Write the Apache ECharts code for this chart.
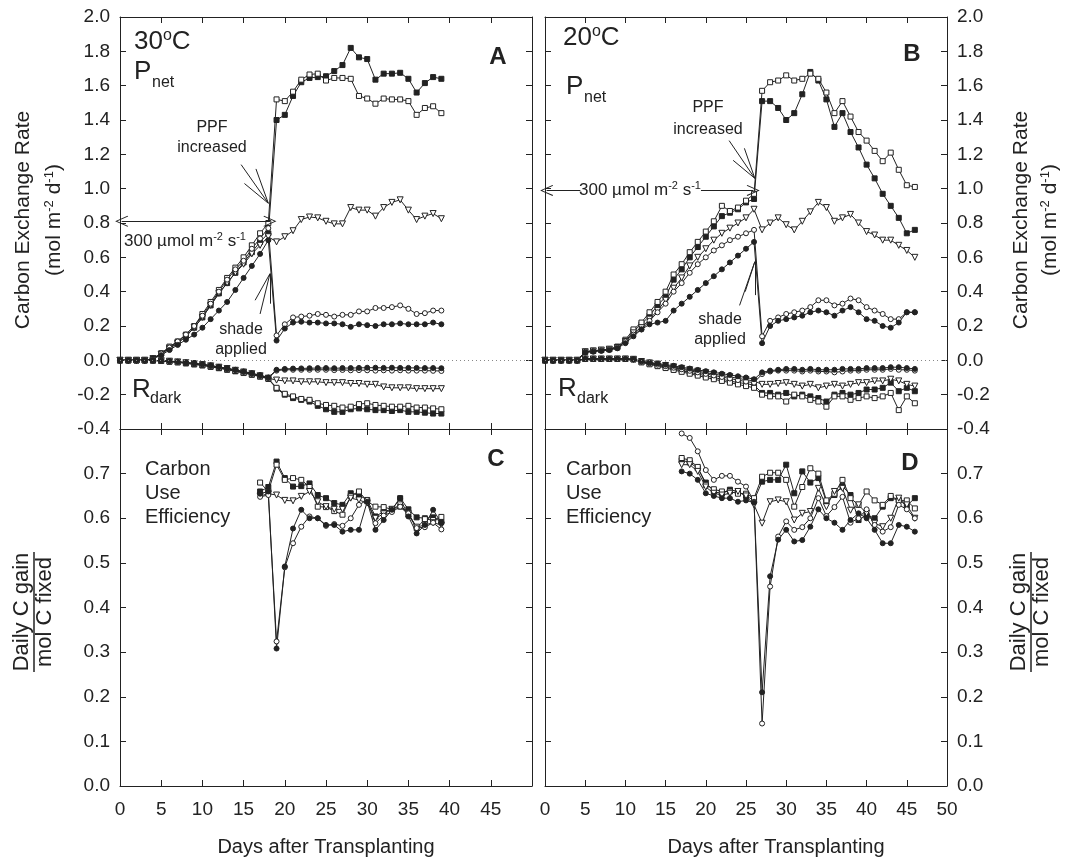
<!DOCTYPE html>
<html>
<head>
<meta charset="utf-8">
<script src="https://cdn.jsdelivr.net/npm/echarts@6.0.0/dist/echarts.min.js"></script>
<style>
  html, body { margin: 0; background: #fff; }
  #chart { width: 1069px; height: 866px; }
</style>
</head>
<body>
<div id="chart"></div>
<script>
// region data
// 30 °C, daily values from day 0 (Pnet, Rdark) and from day 17 (CUE)
const pnet30HiFilled = [0, 0, 0, 0, 0.01, 0.04, 0.07, 0.10, 0.14, 0.19, 0.25, 0.32, 0.39, 0.45, 0.51, 0.57, 0.63, 0.69, 0.74,
  1.40, 1.43, 1.54, 1.62, 1.645, 1.65, 1.655, 1.685, 1.72, 1.82, 1.765, 1.755, 1.635, 1.67, 1.67, 1.675, 1.64, 1.56, 1.615, 1.65, 1.64]
const pnet30HiOpen = [0, 0, 0, 0, 0.01, 0.04, 0.08, 0.11, 0.15, 0.20, 0.27, 0.34, 0.41, 0.48, 0.54, 0.60, 0.67, 0.74, 0.80,
  1.52, 1.51, 1.565, 1.635, 1.665, 1.67, 1.63, 1.645, 1.645, 1.64, 1.54, 1.525, 1.495, 1.525, 1.52, 1.52, 1.51, 1.43, 1.47, 1.48, 1.44]
const pnet30Ctrl = [0, 0, 0, 0, 0.01, 0.035, 0.07, 0.10, 0.14, 0.19, 0.25, 0.32, 0.39, 0.45, 0.51, 0.56, 0.62, 0.67, 0.72,
  0.69, 0.72, 0.755, 0.82, 0.835, 0.83, 0.81, 0.795, 0.795, 0.89, 0.875, 0.875, 0.84, 0.89, 0.92, 0.935, 0.875, 0.82, 0.84, 0.855, 0.825]
const pnet30ShadeOpen = [0, 0, 0, 0, 0.01, 0.04, 0.075, 0.11, 0.15, 0.20, 0.26, 0.33, 0.40, 0.47, 0.53, 0.58, 0.65, 0.71, 0.77,
  0.145, 0.21, 0.25, 0.255, 0.26, 0.27, 0.265, 0.255, 0.265, 0.265, 0.285, 0.285, 0.305, 0.305, 0.31, 0.32, 0.30, 0.27, 0.275, 0.29, 0.29]
const pnet30ShadeFilled = [0, 0, 0, 0, 0.01, 0.03, 0.06, 0.09, 0.12, 0.15, 0.19, 0.24, 0.29, 0.34, 0.41, 0.48, 0.55, 0.62, 0.70,
  0.115, 0.185, 0.22, 0.225, 0.22, 0.22, 0.215, 0.215, 0.21, 0.195, 0.21, 0.205, 0.20, 0.21, 0.21, 0.215, 0.21, 0.21, 0.21, 0.22, 0.21]

const rdark30HiFilled = [0, 0, 0, 0, -0.002, -0.004, -0.008, -0.012, -0.018, -0.024, -0.03, -0.038, -0.046, -0.055, -0.064, -0.074, -0.084, -0.095, -0.108,
  -0.165, -0.20, -0.22, -0.23, -0.24, -0.265, -0.285, -0.30, -0.30, -0.285, -0.28, -0.285, -0.29, -0.29, -0.295, -0.29, -0.30, -0.30, -0.305, -0.31, -0.31]
const rdark30HiOpen = [0, 0, 0, 0, -0.001, -0.003, -0.007, -0.011, -0.016, -0.022, -0.028, -0.035, -0.044, -0.052, -0.062, -0.072, -0.082, -0.093, -0.106,
  -0.16, -0.195, -0.21, -0.225, -0.23, -0.25, -0.26, -0.265, -0.275, -0.27, -0.255, -0.25, -0.26, -0.265, -0.27, -0.27, -0.265, -0.275, -0.275, -0.28, -0.285]
const rdark30Ctrl = [0, 0, 0, 0, 0, -0.002, -0.005, -0.009, -0.014, -0.019, -0.025, -0.032, -0.04, -0.048, -0.058, -0.068, -0.078, -0.09, -0.104,
  -0.115, -0.12, -0.12, -0.125, -0.125, -0.125, -0.13, -0.13, -0.13, -0.135, -0.135, -0.14, -0.14, -0.155, -0.16, -0.16, -0.16, -0.165, -0.165, -0.165, -0.165]
const rdark30ShadeOpen = [0, 0, 0, 0, 0, -0.002, -0.005, -0.009, -0.013, -0.018, -0.024, -0.031, -0.04, -0.048, -0.057, -0.067, -0.077, -0.088, -0.102,
  -0.06, -0.055, -0.055, -0.055, -0.055, -0.055, -0.055, -0.057, -0.056, -0.058, -0.057, -0.058, -0.06, -0.058, -0.06, -0.058, -0.06, -0.06, -0.06, -0.061, -0.062]
const rdark30ShadeFilled = [0, 0, 0, 0, 0, -0.002, -0.004, -0.008, -0.012, -0.017, -0.023, -0.03, -0.038, -0.046, -0.055, -0.065, -0.075, -0.086, -0.10,
  -0.055, -0.05, -0.048, -0.047, -0.046, -0.045, -0.045, -0.046, -0.045, -0.045, -0.044, -0.043, -0.043, -0.044, -0.043, -0.044, -0.044, -0.044, -0.045, -0.045, -0.046]

const cue30HiFilled = [0.66, 0.67, 0.727, 0.69, 0.671, 0.672, 0.678, 0.652, 0.645, 0.634, 0.63, 0.656, 0.652, 0.641, 0.604, 0.615, 0.62, 0.645, 0.62, 0.602, 0.60, 0.602, 0.592]
const cue30HiOpen = [0.68, 0.66, 0.72, 0.686, 0.69, 0.686, 0.67, 0.626, 0.625, 0.616, 0.608, 0.65, 0.66, 0.638, 0.626, 0.625, 0.62, 0.626, 0.608, 0.578, 0.598, 0.596, 0.603]
const cue30Ctrl = [0.65, 0.655, 0.652, 0.64, 0.639, 0.649, 0.66, 0.637, 0.626, 0.62, 0.62, 0.645, 0.641, 0.634, 0.60, 0.61, 0.62, 0.63, 0.61, 0.58, 0.585, 0.59, 0.585]
const cue30ShadeOpen = [0.648, 0.652, 0.324, 0.49, 0.544, 0.581, 0.604, 0.60, 0.583, 0.587, 0.583, 0.60, 0.63, 0.641, 0.589, 0.606, 0.614, 0.626, 0.611, 0.578, 0.58, 0.59, 0.575]
const cue30ShadeFilled = [0.655, 0.66, 0.308, 0.492, 0.577, 0.619, 0.60, 0.60, 0.585, 0.585, 0.57, 0.574, 0.574, 0.637, 0.574, 0.596, 0.619, 0.645, 0.604, 0.566, 0.585, 0.619, 0.589]

// 20 °C, daily values from day 0 (Pnet, Rdark) and from day 17 (CUE)
const pnet20HiFilled = [0, 0, 0, 0, 0, 0.05, 0.055, 0.06, 0.065, 0.075, 0.11, 0.17, 0.21, 0.26, 0.32, 0.37, 0.47, 0.53, 0.60, 0.66, 0.72, 0.78, 0.84, 0.86, 0.88, 0.92, 0.94,
  1.51, 1.51, 1.47, 1.40, 1.44, 1.55, 1.68, 1.63, 1.52, 1.36, 1.44, 1.33, 1.24, 1.14, 1.06, 0.97, 0.90, 0.83, 0.74, 0.76]
const pnet20HiOpen = [0, 0, 0, 0, 0, 0.05, 0.055, 0.06, 0.065, 0.08, 0.12, 0.18, 0.22, 0.28, 0.34, 0.40, 0.50, 0.56, 0.63, 0.69, 0.75, 0.81, 0.90, 0.87, 0.89, 0.93, 0.97,
  1.57, 1.62, 1.63, 1.66, 1.63, 1.64, 1.67, 1.64, 1.56, 1.44, 1.51, 1.42, 1.33, 1.28, 1.22, 1.16, 1.21, 1.11, 1.02, 1.01]
const pnet20Ctrl = [0, 0, 0, 0, 0, 0.05, 0.055, 0.06, 0.065, 0.075, 0.11, 0.16, 0.19, 0.24, 0.29, 0.35, 0.42, 0.48, 0.55, 0.60, 0.65, 0.70, 0.74, 0.77, 0.80, 0.83, 0.88,
  0.76, 0.80, 0.83, 0.79, 0.76, 0.81, 0.865, 0.92, 0.89, 0.81, 0.83, 0.85, 0.80, 0.75, 0.73, 0.70, 0.70, 0.67, 0.64, 0.60]
const pnet20ShadeOpen = [0, 0, 0, 0, 0, 0.05, 0.055, 0.06, 0.065, 0.075, 0.11, 0.15, 0.18, 0.23, 0.28, 0.33, 0.40, 0.45, 0.51, 0.56, 0.60, 0.64, 0.67, 0.70, 0.72, 0.74, 0.76,
  0.14, 0.23, 0.25, 0.27, 0.28, 0.29, 0.31, 0.35, 0.35, 0.32, 0.33, 0.36, 0.35, 0.31, 0.29, 0.27, 0.24, 0.24, 0.28, 0.28]
const pnet20ShadeFilled = [0, 0, 0, 0, 0, 0.045, 0.05, 0.055, 0.06, 0.07, 0.10, 0.14, 0.18, 0.21, 0.22, 0.23, 0.29, 0.33, 0.37, 0.41, 0.45, 0.49, 0.53, 0.57, 0.61, 0.65, 0.69,
  0.10, 0.20, 0.23, 0.24, 0.25, 0.26, 0.28, 0.29, 0.28, 0.26, 0.29, 0.31, 0.28, 0.24, 0.23, 0.20, 0.19, 0.22, 0.28, 0.28]

const rdark20HiFilled = [0, 0, 0, 0, 0, 0.008, 0.008, 0.008, 0.008, 0.008, 0.008, 0.006,
  -0.01, -0.02, -0.03, -0.04, -0.05, -0.06, -0.07, -0.08, -0.09, -0.10, -0.11, -0.12, -0.13, -0.135, -0.145,
  -0.19, -0.19, -0.20, -0.19, -0.21, -0.20, -0.21, -0.22, -0.24, -0.20, -0.19, -0.20, -0.19, -0.17, -0.17, -0.16, -0.13, -0.18, -0.16, -0.18]
const rdark20HiOpen = [0, 0, 0, 0, 0, 0.008, 0.008, 0.008, 0.008, 0.008, 0.008, 0.005,
  -0.012, -0.023, -0.034, -0.045, -0.056, -0.067, -0.078, -0.089, -0.10, -0.11, -0.12, -0.13, -0.14, -0.15, -0.16,
  -0.20, -0.21, -0.21, -0.24, -0.20, -0.21, -0.23, -0.24, -0.27, -0.21, -0.21, -0.23, -0.22, -0.21, -0.22, -0.21, -0.19, -0.29, -0.21, -0.25]
const rdark20Ctrl = [0, 0, 0, 0, 0, 0.008, 0.008, 0.008, 0.008, 0.008, 0.008, 0.006,
  -0.007, -0.015, -0.022, -0.03, -0.038, -0.047, -0.055, -0.063, -0.072, -0.08, -0.088, -0.096, -0.105, -0.113, -0.12,
  -0.14, -0.14, -0.135, -0.13, -0.14, -0.15, -0.14, -0.16, -0.15, -0.14, -0.15, -0.14, -0.13, -0.13, -0.12, -0.12, -0.11, -0.12, -0.14, -0.15]
const rdark20ShadeOpen = [0, 0, 0, 0, 0, 0.008, 0.008, 0.008, 0.008, 0.008, 0.008, 0.006,
  -0.008, -0.017, -0.025, -0.034, -0.043, -0.052, -0.061, -0.07, -0.079, -0.088, -0.097, -0.106, -0.115, -0.124, -0.13,
  -0.08, -0.065, -0.06, -0.06, -0.06, -0.065, -0.06, -0.065, -0.065, -0.07, -0.065, -0.06, -0.06, -0.055, -0.055, -0.055, -0.05, -0.055, -0.055, -0.06]
const rdark20ShadeFilled = [0, 0, 0, 0, 0, 0.008, 0.008, 0.008, 0.008, 0.008, 0.008, 0.007,
  -0.005, -0.012, -0.018, -0.025, -0.032, -0.04, -0.048, -0.056, -0.063, -0.07, -0.078, -0.085, -0.093, -0.10, -0.11,
  -0.07, -0.06, -0.055, -0.05, -0.05, -0.055, -0.05, -0.055, -0.055, -0.055, -0.05, -0.05, -0.05, -0.045, -0.045, -0.045, -0.04, -0.04, -0.045, -0.05]

const cue20HiFilled = [0.73, 0.725, 0.712, 0.68, 0.66, 0.655, 0.664, 0.66, 0.65, 0.64,
  0.682, 0.686, 0.686, 0.72, 0.656, 0.705, 0.68, 0.69, 0.637, 0.652, 0.672, 0.652, 0.596, 0.607, 0.60, 0.626, 0.645, 0.641, 0.628, 0.645]
const cue20HiOpen = [0.735, 0.73, 0.715, 0.675, 0.665, 0.66, 0.66, 0.655, 0.655, 0.645,
  0.693, 0.702, 0.702, 0.686, 0.626, 0.67, 0.712, 0.70, 0.64, 0.655, 0.686, 0.645, 0.63, 0.66, 0.64, 0.63, 0.65, 0.64, 0.64, 0.622]
const cue20Ctrl = [0.72, 0.72, 0.705, 0.67, 0.656, 0.652, 0.656, 0.66, 0.65, 0.63,
  0.589, 0.637, 0.641, 0.637, 0.596, 0.611, 0.615, 0.667, 0.626, 0.66, 0.667, 0.618, 0.63, 0.611, 0.589, 0.581, 0.60, 0.645, 0.63, 0.60]
const cue20ShadeOpen = [0.79, 0.78, 0.75, 0.708, 0.686, 0.695, 0.695, 0.682, 0.671, 0.637,
  0.14, 0.447, 0.559, 0.593, 0.574, 0.58, 0.60, 0.645, 0.605, 0.625, 0.648, 0.59, 0.60, 0.62, 0.585, 0.57, 0.58, 0.63, 0.62, 0.60]
const cue20ShadeFilled = [0.705, 0.70, 0.686, 0.656, 0.65, 0.645, 0.645, 0.637, 0.64, 0.635,
  0.21, 0.47, 0.552, 0.574, 0.548, 0.551, 0.581, 0.62, 0.60, 0.59, 0.574, 0.596, 0.611, 0.60, 0.574, 0.544, 0.544, 0.585, 0.581, 0.57]

const firstDayFlux = 0
const firstDayCue = 17
const dayTicks = [0, 50, 5]          // min, max, step
const exchangeTicks = [-0.4, 2.0, 0.2]
const cueTicks = [0, 0.8, 0.1]
// endregion

const ink = '#222'
const font = 'Liberation Sans, Arial, sans-serif'
const chevron = 'path://M0,0 L7,13 L6,13.6 L0,2.2 L-6,13.6 L-7,13 Z'

// filled square, open square, open down-triangle, open circle, filled circle
const markers = [
  { symbol: 'rect', size: 5, fill: ink },
  { symbol: 'rect', size: 5, fill: '#fff' },
  { symbol: 'triangle', size: 6, fill: '#fff', rotate: 180 },
  { symbol: 'circle', size: 5, fill: '#fff' },
  { symbol: 'circle', size: 5, fill: ink },
]

const panels = [
  { left: 120, top: 17, width: 412, height: 412, ticks: exchangeTicks, side: 'left', xLabels: false, lastX: false },
  { left: 545, top: 17, width: 402, height: 412, ticks: exchangeTicks, side: 'right', xLabels: false, lastX: false },
  { left: 120, top: 429, width: 412, height: 357, ticks: cueTicks, side: 'left', xLabels: true, lastX: false },
  { left: 545, top: 429, width: 402, height: 357, ticks: cueTicks, side: 'right', xLabels: true, lastX: true },
]

const axisLine = { show: true, onZero: false, lineStyle: { color: ink, width: 1 } }
const axisTick = { show: true, inside: true, length: 6, lineStyle: { color: ink, width: 1 } }
const labelStyle = { color: ink, fontSize: 19, fontFamily: font }

const grid = panels.map((p) => ({ left: p.left, top: p.top, width: p.width, height: p.height }))
const xAxis = []
const yAxis = []
panels.forEach((p, i) => {
  const upper = p.ticks === exchangeTicks
  ;['bottom', 'top'].forEach((pos) => {
    xAxis.push({
      gridIndex: i, type: 'value', position: pos,
      min: dayTicks[0], max: dayTicks[1], interval: dayTicks[2],
      axisLine, axisTick, splitLine: { show: false },
      axisLabel: { ...labelStyle, show: pos === 'bottom' && p.xLabels, showMaxLabel: p.lastX, margin: 14 },
    })
  })
  const other = p.side === 'left' ? 'right' : 'left'
  ;[p.side, other].forEach((pos) => {
    yAxis.push({
      gridIndex: i, type: 'value', position: pos,
      min: p.ticks[0], max: p.ticks[1], interval: p.ticks[2],
      axisLine, axisTick, splitLine: { show: false },
      axisLabel: {
        ...labelStyle, show: pos === p.side, margin: 10, showMaxLabel: upper,
        formatter: (v) => v.toFixed(1),
      },
    })
  })
})

const lineSeries = (panel, values, firstDay, m) => ({
  type: 'line',
  xAxisIndex: panel * 2,
  yAxisIndex: panel * 2,
  data: values.map((v, i) => [firstDay + i, v]),
  symbol: m.symbol,
  symbolSize: m.size,
  symbolRotate: m.rotate || 0,
  showAllSymbol: true,
  lineStyle: { color: ink, width: 1 },
  itemStyle: { color: m.fill, borderColor: ink, borderWidth: 1 },
  emphasis: { disabled: true },
  animation: false,
  z: 3,
})

const seg = (a, b, startSym, endSym) => [
  { coord: a, symbol: startSym || 'none', symbolSize: [11, 13] },
  { coord: b, symbol: endSym || 'none', symbolSize: [11, 13] },
]
const zeroLine = { yAxis: 0, lineStyle: { type: [1, 3], color: '#888', width: 1 } }
const annotate = (data) => ({
  silent: true, animation: false, symbol: ['none', 'none'],
  label: { show: false },
  lineStyle: { color: ink, width: 1, type: 'solid' },
  data,
})

// annotation lines drawn in data units
const marks30 = annotate([
  zeroLine,
  seg([0.2, 0.81], [18.2, 0.81], chevron, chevron),
  seg([18.0, 0.915], [14.7, 1.14]),
  seg([18.0, 0.915], [16.5, 1.115]),
  seg([18.0, 0.915], [15.1, 1.03]),
  seg([18.2, 0.505], [16.4, 0.35]),
  seg([18.2, 0.505], [17.0, 0.27]),
  seg([18.2, 0.505], [18.2, 0.33]),
])
const marks20 = annotate([
  zeroLine,
  seg([0.2, 0.99], [4.4, 0.99], chevron),
  seg([19.4, 0.99], [25.9, 0.99], 'none', chevron),
  seg([26.1, 1.06], [22.9, 1.28]),
  seg([26.1, 1.06], [24.8, 1.235]),
  seg([26.1, 1.06], [23.4, 1.165]),
  seg([26.1, 0.575], [24.2, 0.32]),
  seg([26.1, 0.575], [24.9, 0.40]),
  seg([26.1, 0.575], [26.1, 0.38]),
])

const groups = [
  { panel: 0, first: firstDayFlux, sets: [pnet30HiFilled, pnet30HiOpen, pnet30Ctrl, pnet30ShadeOpen, pnet30ShadeFilled], marks: marks30 },
  { panel: 0, first: firstDayFlux, sets: [rdark30HiFilled, rdark30HiOpen, rdark30Ctrl, rdark30ShadeOpen, rdark30ShadeFilled] },
  { panel: 1, first: firstDayFlux, sets: [pnet20HiFilled, pnet20HiOpen, pnet20Ctrl, pnet20ShadeOpen, pnet20ShadeFilled], marks: marks20 },
  { panel: 1, first: firstDayFlux, sets: [rdark20HiFilled, rdark20HiOpen, rdark20Ctrl, rdark20ShadeOpen, rdark20ShadeFilled] },
  { panel: 2, first: firstDayCue, sets: [cue30HiFilled, cue30HiOpen, cue30Ctrl, cue30ShadeOpen, cue30ShadeFilled] },
  { panel: 3, first: firstDayCue, sets: [cue20HiFilled, cue20HiOpen, cue20Ctrl, cue20ShadeOpen, cue20ShadeFilled] },
]
const series = []
groups.forEach((g) => {
  g.sets.forEach((values, k) => {
    const s = lineSeries(g.panel, values, g.first, markers[k])
    if (g.marks && k === 2) s.markLine = g.marks
    series.push(s)
  })
})

// region texts
const text = (x, y, str, size, extra = {}) => ({
  type: 'text', x, y, silent: true, rotation: extra.rotation || 0,
  style: {
    text: str, fontSize: size, fontFamily: font, fill: ink,
    align: extra.align || 'left', verticalAlign: extra.vAlign || 'middle',
    fontWeight: extra.weight || 'normal', rich: extra.rich,
  },
})
const up = Math.PI / 2
const supRich = (size) => ({
  t: { fontSize: size, fontFamily: font, fill: ink, lineHeight: size + 2 },
  s: { fontSize: Math.round(size * 0.62), fontFamily: font, fill: ink, verticalAlign: 'top', lineHeight: Math.round(size * 0.62) },
})
const unitText = '{t|(mol m}{s|-2}{t| d}{s|-1}{t|)}'
const ppfdText = '{t|300 µmol m}{s|-2}{t| s}{s|-1}'

const graphic = [
  // panel A
  text(134, 42, '{t|30}{s|o}{t|C}', 26, { rich: supRich(26) }),
  text(134, 72, 'P', 26),
  text(152, 83, 'net', 16),
  text(498, 57, 'A', 24, { align: 'center', weight: 'bold' }),
  text(212, 128, 'PPF', 16, { align: 'center' }),
  text(212, 148, 'increased', 16, { align: 'center' }),
  text(124, 241, ppfdText, 17, { rich: supRich(17) }),
  text(241, 330, 'shade', 16, { align: 'center' }),
  text(241, 350, 'applied', 16, { align: 'center' }),
  text(132, 390, 'R', 26),
  text(150, 399, 'dark', 16),
  // panel B
  text(563, 38, '{t|20}{s|o}{t|C}', 26, { rich: supRich(26) }),
  text(566, 87, 'P', 26),
  text(584, 98, 'net', 16),
  text(912, 54, 'B', 24, { align: 'center', weight: 'bold' }),
  text(708, 108, 'PPF', 16, { align: 'center' }),
  text(708, 130, 'increased', 16, { align: 'center' }),
  text(640, 190, ppfdText, 17, { align: 'center', rich: supRich(17) }),
  text(720, 320, 'shade', 16, { align: 'center' }),
  text(720, 340, 'applied', 16, { align: 'center' }),
  text(558, 389, 'R', 26),
  text(577, 399, 'dark', 16),
  // panels C, D
  text(145, 469, 'Carbon', 20),
  text(145, 493, 'Use', 20),
  text(145, 517, 'Efficiency', 20),
  text(496, 459, 'C', 24, { align: 'center', weight: 'bold' }),
  text(566, 469, 'Carbon', 20),
  text(566, 493, 'Use', 20),
  text(566, 517, 'Efficiency', 20),
  text(910, 463, 'D', 24, { align: 'center', weight: 'bold' }),
  // axis titles
  text(23, 220, 'Carbon Exchange Rate', 21, { align: 'center', rotation: up }),
  text(54, 220, unitText, 21, { align: 'center', rotation: up, rich: supRich(21) }),
  text(1021, 220, 'Carbon Exchange Rate', 21, { align: 'center', rotation: up }),
  text(1050, 220, unitText, 21, { align: 'center', rotation: up, rich: supRich(21) }),
  text(22, 612, 'Daily C gain', 22, { align: 'center', rotation: up }),
  text(45, 612, 'mol C fixed', 22, { align: 'center', rotation: up }),
  text(1019, 612, 'Daily C gain', 22, { align: 'center', rotation: up }),
  text(1042, 612, 'mol C fixed', 22, { align: 'center', rotation: up }),
  { type: 'line', silent: true, shape: { x1: 34, y1: 552, x2: 34, y2: 672 }, style: { stroke: ink, lineWidth: 1.5 } },
  { type: 'line', silent: true, shape: { x1: 1031, y1: 552, x2: 1031, y2: 672 }, style: { stroke: ink, lineWidth: 1.5 } },
  text(326, 847, 'Days after Transplanting', 20, { align: 'center' }),
  text(776, 847, 'Days after Transplanting', 20, { align: 'center' }),
]
// endregion

const chart = echarts.init(document.getElementById('chart'))
chart.setOption({
  animation: false,
  backgroundColor: '#fff',
  grid,
  xAxis,
  yAxis,
  series,
  graphic,
})
</script>
</body>
</html>
